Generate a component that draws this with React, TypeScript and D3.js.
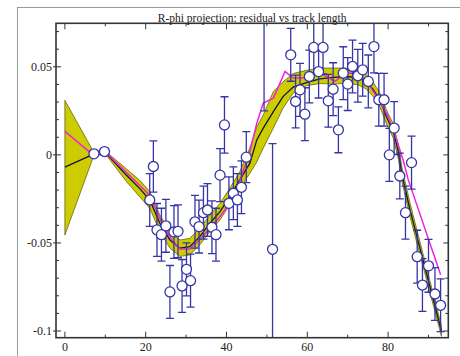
import React from "react";
import * as d3 from "d3";

// measured points (track length, residual, error)
const ptX = [7.2, 9.8, 21.0, 21.9, 22.8, 23.9, 25.0, 26.0, 27.0, 28.0, 29.0, 30.1, 31.1, 32.2, 33.2, 34.3, 35.3, 36.4, 37.4, 38.4, 39.5, 40.6, 41.7, 42.7, 43.7, 44.9, 49.3, 51.4, 55.9, 57.1, 58.2, 59.4, 60.5, 61.6, 62.8, 63.9, 65.2, 66.4, 67.7, 68.9, 70.0, 71.2, 72.5, 73.7, 75.1, 76.5, 77.7, 79.0, 80.3, 81.5, 82.9, 84.3, 85.8, 87.2, 88.5, 90.0, 91.6, 93.0];
const ptY = [0.0006, 0.0019, -0.0256, -0.0066, -0.0426, -0.0453, -0.0403, -0.0778, -0.0438, -0.0434, -0.0744, -0.065, -0.0714, -0.038, -0.0407, -0.0328, -0.0313, -0.0411, -0.0453, -0.0115, 0.017, -0.0275, -0.0218, -0.0256, -0.0184, -0.0013, 0.085, -0.0536, 0.0568, 0.0303, 0.0369, 0.0231, 0.0445, 0.061, 0.0473, 0.061, 0.0307, 0.0373, 0.0142, 0.0464, 0.0402, 0.0502, 0.0449, 0.0483, 0.0417, 0.0615, 0.0313, 0.0313, 0.0, 0.0152, -0.012, -0.0328, -0.0044, -0.0578, -0.0739, -0.063, -0.079, -0.0854];
const ptErr = [0.0004, 0.0004, 0.015, 0.0145, 0.015, 0.015, 0.015, 0.015, 0.015, 0.015, 0.015, 0.015, 0.015, 0.015, 0.015, 0.015, 0.015, 0.015, 0.015, 0.015, 0.016, 0.015, 0.015, 0.015, 0.015, 0.0145, 0.06, 0.06, 0.015, 0.015, 0.015, 0.015, 0.015, 0.015, 0.015, 0.015, 0.015, 0.015, 0.013, 0.015, 0.015, 0.015, 0.015, 0.015, 0.015, 0.015, 0.015, 0.015, 0.015, 0.015, 0.013, 0.015, 0.015, 0.015, 0.015, 0.015, 0.015, 0.015];

// fitted curve with its error band
const fitX = [0, 7.25, 9.8, 15, 18.6, 21, 23.5, 26, 28.5, 30.9, 33.4, 35.9, 38.4, 40.8, 43.3, 45.8, 47.5, 49.1, 51.6, 54.0, 56.5, 59.8, 63.1, 66.5, 69.7, 72.5, 74.5, 76.3, 78, 79.6, 81.3, 82.5, 83.5, 85.4, 93.2];
const fitY = [-0.007, 0.0006, 0.0019, -0.011, -0.0193, -0.0256, -0.0388, -0.0483, -0.053, -0.0521, -0.0464, -0.0388, -0.0322, -0.0237, -0.0142, -0.0047, 0.0085, 0.0152, 0.0246, 0.0331, 0.0385, 0.041, 0.0432, 0.044, 0.0445, 0.0438, 0.0415, 0.0372, 0.031, 0.0215, 0.0135, 0.002, -0.012, -0.031, -0.1];
const bandLo = [-0.0455, 0.0001, 0.0012, -0.0145, -0.024, -0.0303, -0.0435, -0.053, -0.0577, -0.0568, -0.0511, -0.0435, -0.0369, -0.0284, -0.0189, -0.0105, -0.004, 0.0038, 0.0152, 0.0265, 0.035, 0.0393, 0.0405, 0.0402, 0.0407, 0.0398, 0.0375, 0.0332, 0.027, 0.0175, 0.0095, -0.002, -0.016, -0.035, -0.103];
const bandHi = [0.031, 0.0011, 0.0026, -0.0075, -0.0146, -0.0208, -0.0341, -0.0436, -0.0483, -0.0474, -0.0417, -0.0341, -0.0275, -0.019, -0.0095, 0.004, 0.016, 0.0227, 0.036, 0.0415, 0.0462, 0.048, 0.0493, 0.0493, 0.0493, 0.048, 0.0458, 0.0412, 0.035, 0.0255, 0.0175, 0.006, -0.008, -0.027, -0.097];

// second (magenta) curve
const magX = [0, 6.0, 7.25, 9.8, 11, 15, 18.6, 20.9, 23.5, 26, 28.5, 30.9, 33.4, 35.9, 38.4, 40.8, 43.3, 45.8, 47.5, 49.1, 51.6, 54.5, 56.5, 59.0, 61.5, 64.0, 66.8, 69.7, 72.2, 74.7, 77.2, 79.6, 81.3, 83.7, 85.0, 93.0];
const magY = [0.0133, 0.0019, 0.0, 0.0, -0.0005, -0.0095, -0.0175, -0.0227, -0.036, -0.047, -0.0535, -0.0535, -0.048, -0.0417, -0.035, -0.0275, -0.015, 0.002, 0.018, 0.0294, 0.0322, 0.0473, 0.0436, 0.0436, 0.0455, 0.0455, 0.0417, 0.0464, 0.0464, 0.0417, 0.0331, 0.0237, 0.0142, -0.0028, -0.0142, -0.068];

const xMajor = [0, 20, 40, 60, 80];
const xMinor = [10, 30, 50, 70, 90];
const yMajor = [-0.1, -0.05, 0, 0.05];
const yLabels = ["-0.1", "-0.05", "0", "0.05"];
const title = "R-phi projection: residual vs track length";

const W = 460;
const H = 356;
const box = { left: 56, top: 23.3, right: 448.3, bottom: 337.7 };
const serif = "'Liberation Serif', 'DejaVu Serif', serif";
const blue = "#3535a5";

export default function App() {
  const x = d3.scaleLinear().domain([-2.2, 94.9]).range([box.left, box.right]);
  const y = d3.scaleLinear().domain([-0.1038, 0.0747]).range([box.bottom, box.top]);

  const band = d3
    .area<number>()
    .x((_, i) => x(fitX[i]))
    .y0((_, i) => y(bandLo[i]))
    .y1((_, i) => y(bandHi[i]));
  const fitLine = d3
    .line<number>()
    .x((_, i) => x(fitX[i]))
    .y((d) => y(d));
  const magLine = d3
    .line<number>()
    .x((_, i) => x(magX[i]))
    .y((d) => y(d));

  const yMinor = d3.range(-10, 8).map((k) => k / 100).filter((v) => Math.abs(v * 20 - Math.round(v * 20)) > 1e-6);

  return (
    <svg width={W} height={H} style={{ position: "absolute", left: 0, top: 0, background: "#fff" }}>
      <defs>
        <clipPath id="plot">
          <rect x={box.left} y={box.top} width={box.right - box.left} height={box.bottom - box.top} />
        </clipPath>
      </defs>
      <rect x={17.5} y={7.5} width={500} height={400} fill="none" stroke="#999" strokeWidth={1} />

      <g clipPath="url(#plot)">
        <path d={band(fitX) ?? ""} fill="#cccc00" stroke="#55550f" strokeWidth={0.7} />
        <path d={fitLine(fitY) ?? ""} fill="none" stroke="#151535" strokeWidth={1.3} />
        <path d={magLine(magY) ?? ""} fill="none" stroke="#ee22dd" strokeWidth={1.5} />
        {ptX.map((px, i) => {
          const cx = x(px);
          const lo = y(ptY[i] - ptErr[i]);
          const hi = y(ptY[i] + ptErr[i]);
          return (
            <g key={i} stroke={blue} strokeWidth={1.3}>
              <line x1={cx} x2={cx} y1={lo} y2={hi} />
              <line x1={cx - 4} x2={cx + 4} y1={lo} y2={lo} />
              <line x1={cx - 4} x2={cx + 4} y1={hi} y2={hi} />
            </g>
          );
        })}
        {ptX.map((px, i) => (
          <circle key={i} cx={x(px)} cy={y(ptY[i])} r={5} fill="#fff" stroke={blue} strokeWidth={1.3} />
        ))}
      </g>

      <rect x={box.left} y={box.top} width={box.right - box.left} height={box.bottom - box.top} fill="none" stroke="#333" strokeWidth={1.6} />

      <g stroke="#333" strokeWidth={1}>
        {xMajor.map((v) => (
          <g key={"xM" + v}>
            <line x1={x(v)} x2={x(v)} y1={box.bottom} y2={box.bottom - 6} />
            <line x1={x(v)} x2={x(v)} y1={box.top} y2={box.top + 6} />
          </g>
        ))}
        {xMinor.map((v) => (
          <g key={"xm" + v}>
            <line x1={x(v)} x2={x(v)} y1={box.bottom} y2={box.bottom - 3} />
            <line x1={x(v)} x2={x(v)} y1={box.top} y2={box.top + 3} />
          </g>
        ))}
        {yMajor.map((v) => (
          <g key={"yM" + v}>
            <line x1={box.left - 3} x2={box.left + 5} y1={y(v)} y2={y(v)} />
            <line x1={box.right} x2={box.right - 5} y1={y(v)} y2={y(v)} />
          </g>
        ))}
        {yMinor.map((v) => (
          <g key={"ym" + v}>
            <line x1={box.left} x2={box.left + 3} y1={y(v)} y2={y(v)} />
            <line x1={box.right} x2={box.right - 3} y1={y(v)} y2={y(v)} />
          </g>
        ))}
      </g>

      <g fontFamily={serif} fontSize={12} fill="#222">
        {xMajor.map((v) => (
          <text key={"xl" + v} x={x(v)} y={351} textAnchor="middle">
            {v}
          </text>
        ))}
        {yMajor.map((v, i) => (
          <text key={"yl" + v} x={box.left - 4} y={y(v) + 4} textAnchor="end">
            {yLabels[i]}
          </text>
        ))}
        <text x={(box.left + box.right) / 2} y={21.5} textAnchor="middle" fontSize={11.5}>
          {title}
        </text>
      </g>
    </svg>
  );
}
